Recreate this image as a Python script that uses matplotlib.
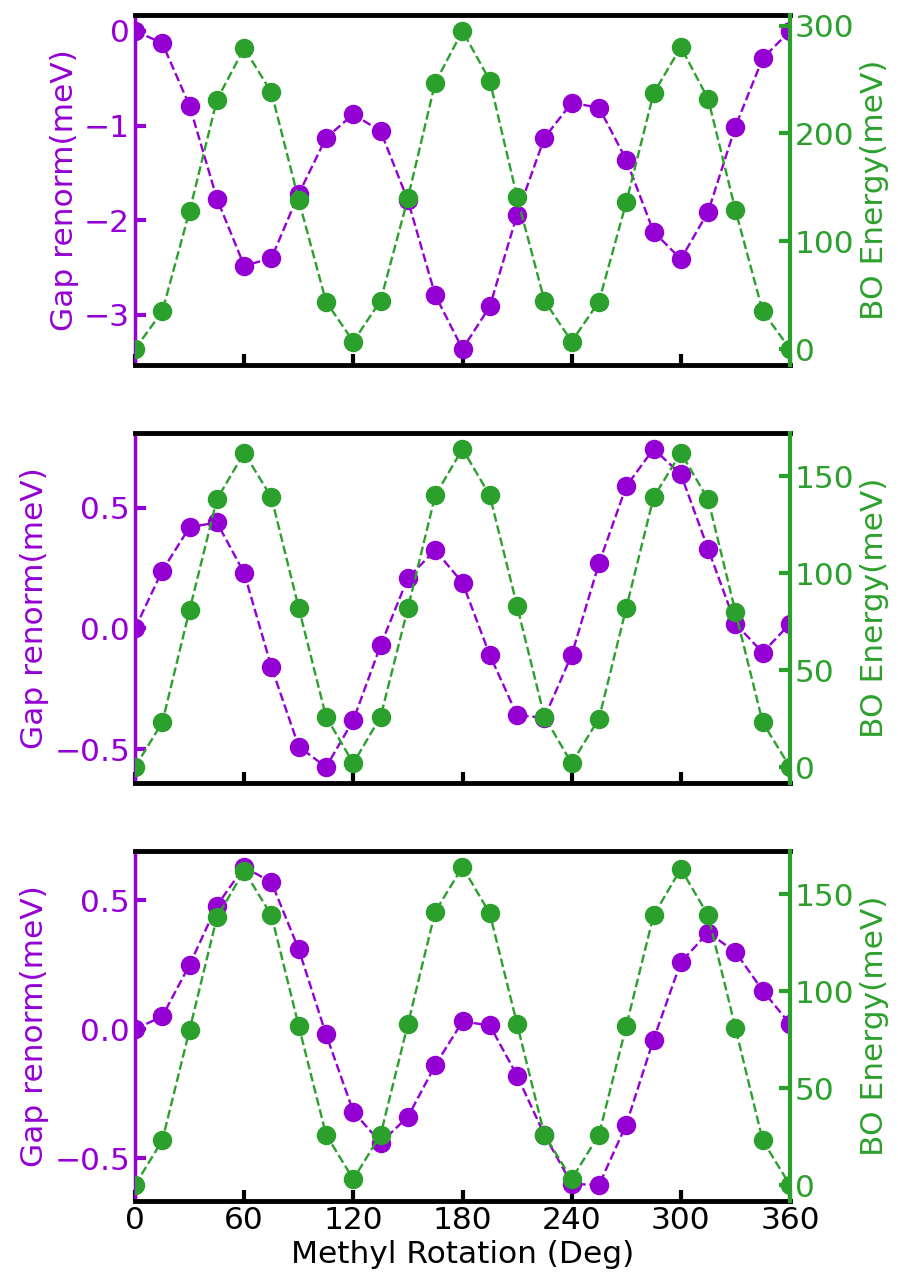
import matplotlib
matplotlib.use("Agg")
import matplotlib.pyplot as plt
import numpy as np

angles = list(range(0, 361, 15))

gap_top = [0.0, -0.13, -0.79, -1.77, -2.48, -2.40, -1.72, -1.13, -0.88, -1.06, -1.79, -2.79, -3.36,
           -2.91, -1.94, -1.13, -0.76, -0.81, -1.36, -2.12, -2.41, -1.91, -1.01, -0.29, 0.0]
bo_top = [0, 35, 128, 231, 279, 238, 138, 44, 7, 45, 140, 247, 295,
          249, 141, 45, 7, 44, 136, 237, 280, 232, 129, 35, 0]

gap_mid = [0.0, 0.24, 0.42, 0.44, 0.23, -0.16, -0.49, -0.575, -0.38, -0.07, 0.21, 0.325, 0.19,
           -0.11, -0.36, -0.37, -0.11, 0.27, 0.59, 0.745, 0.64, 0.33, 0.02, -0.10, 0.02]
bo_mid = [0, 23, 81, 138, 162, 139, 82, 26, 2, 26, 82, 140, 164,
          140, 83, 26, 2, 25, 82, 139, 162, 138, 80, 23, 0]

gap_bot = [0.0, 0.05, 0.25, 0.48, 0.63, 0.57, 0.31, -0.02, -0.32, -0.44, -0.34, -0.14, 0.03,
           0.015, -0.18, -0.41, -0.60, -0.605, -0.37, -0.04, 0.26, 0.375, 0.30, 0.15, 0.02]
bo_bot = [0, 23, 80, 138, 162, 139, 82, 26, 3, 26, 83, 141, 164,
          140, 83, 26, 3, 26, 82, 139, 163, 139, 81, 23, 0]

xticks = [0, 60, 120, 180, 240, 300, 360]
yticks_left = [[0, -1, -2, -3], [-0.5, 0.0, 0.5], [-0.5, 0.0, 0.5]]
yticks_right = [[0, 100, 200, 300], [0, 50, 100, 150], [0, 50, 100, 150]]

purple = "#9400D3"
green = "#2ca02c"
FS = 22.5

fig = plt.figure(figsize=(8.98, 12.74), dpi=100)
W, H = 898, 1274
left, right = 135, 790
panels = [(15, 365), (433, 783), (851, 1201)]

datasets = [(gap_top, bo_top), (gap_mid, bo_mid), (gap_bot, bo_bot)]

for i, ((top, bot), (g, b)) in enumerate(zip(panels, datasets)):
    ax = fig.add_axes([left / W, 1 - bot / H, (right - left) / W, (bot - top) / H])
    ax2 = ax.twinx()
    ax.plot(angles, g, linestyle="--", color=purple, marker="o", markersize=13, linewidth=1.7)
    ax2.plot(angles, b, linestyle="--", color=green, marker="o", markersize=13, linewidth=1.7)
    ax.set_xlim(0, 360)
    ax.set_xticks(xticks)
    ax.set_yticks(yticks_left[i])
    ax2.set_yticks(yticks_right[i])
    ax.set_ylabel("Gap renorm(meV)", color=purple, fontsize=FS)
    ax2.set_ylabel("BO Energy(meV)", color=green, fontsize=FS)
    ax.tick_params(axis="y", colors=purple, direction="in", length=8, width=3, labelsize=FS)
    ax2.tick_params(axis="y", colors=green, direction="in", length=8, width=3, labelsize=FS)
    ax.tick_params(axis="x", colors="black", direction="in", length=8, width=3, labelsize=FS)
    if i < 2:
        ax.tick_params(axis="x", labelbottom=False)
    else:
        ax.set_xlabel("Methyl Rotation (Deg)", fontsize=FS)
    for s in ("top", "bottom"):
        ax.spines[s].set_color("black")
        ax.spines[s].set_linewidth(3.5)
        ax2.spines[s].set_visible(False)
    ax.spines["left"].set_color(purple)
    ax.spines["left"].set_linewidth(2.5)
    ax.spines["right"].set_visible(False)
    ax2.spines["left"].set_visible(False)
    ax2.spines["right"].set_color(green)
    ax2.spines["right"].set_linewidth(3)

fig.savefig("out.png", dpi=100)
